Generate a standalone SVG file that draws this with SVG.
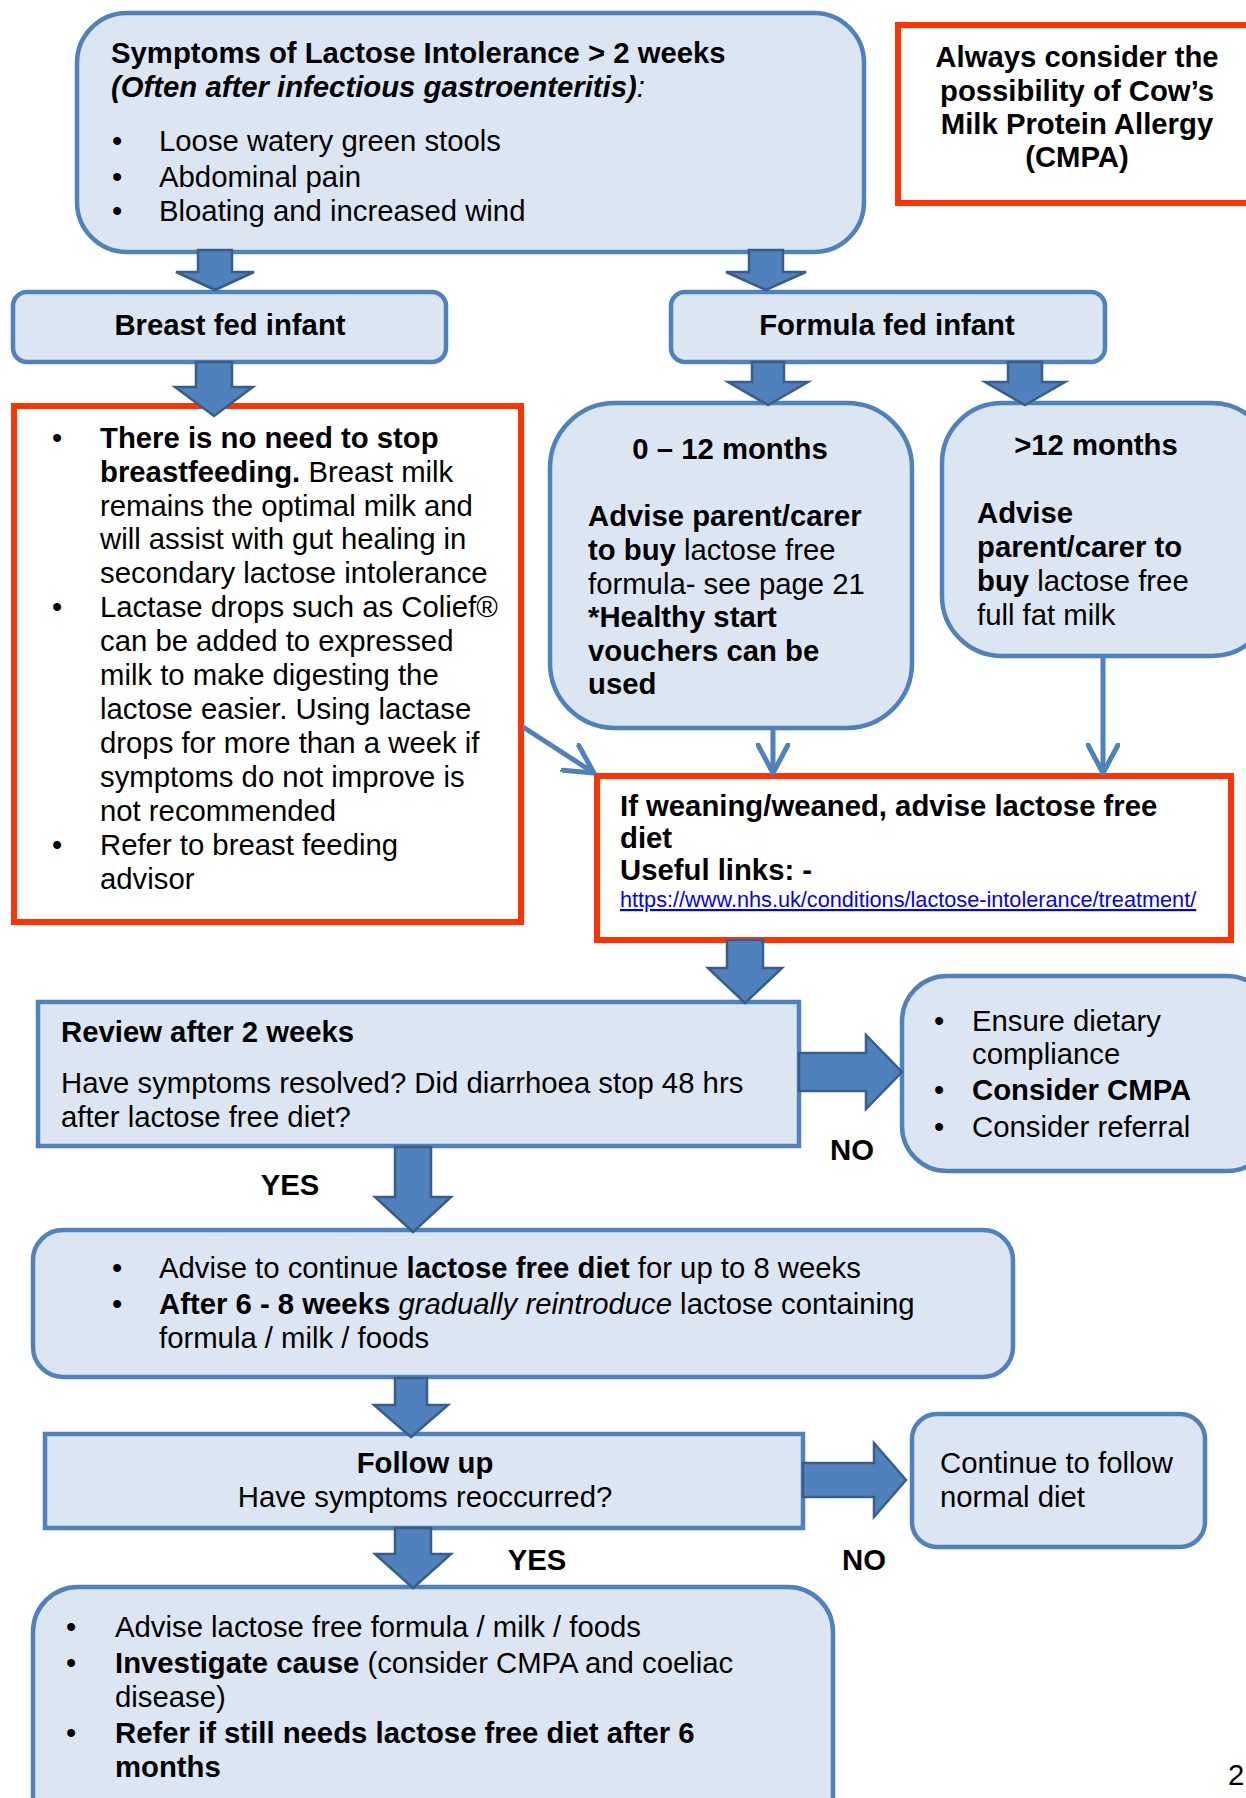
<svg xmlns="http://www.w3.org/2000/svg" width="1246" height="1798" viewBox="0 0 1246 1798">
<style>
text{font-family:"Liberation Sans",Arial,sans-serif;font-size:29.3px;fill:#000}
.b{font-weight:bold}
.i{font-style:italic}
.c{text-anchor:middle}
.box{fill:#DCE6F2;stroke:#4F81BD;stroke-width:4.5}
.red{fill:#fff;stroke:#FF3300;stroke-width:6}
.blk{fill:#4F81BD;stroke:#385D8A;stroke-width:2.5;stroke-linejoin:miter}
.thin{stroke:#4F81BD;stroke-width:5;fill:none}
.url{font-size:21.7px;fill:#0000FF;text-decoration:underline}
</style>
<defs>
<marker id="vh" viewBox="0 0 32 34" refX="30" refY="17" markerWidth="32" markerHeight="34" markerUnits="userSpaceOnUse" orient="auto">
<path d="M2,2 L30,17 L2,32" fill="none" stroke="#4F81BD" stroke-width="5" stroke-linecap="round" stroke-linejoin="round"/>
</marker>
</defs>

<g id="n-symptoms">
<rect class="box" x="77" y="13" width="787" height="239" rx="50"/>
<text class="b" x="111" y="63">Symptoms of Lactose Intolerance &gt; 2 weeks</text>
<text x="111" y="97"><tspan class="b i">(Often after infectious gastroenteritis)</tspan><tspan class="i">:</tspan></text>
<text x="112" y="151">•</text><text x="159" y="151">Loose watery green stools</text>
<text x="112" y="187">•</text><text x="159" y="187">Abdominal pain</text>
<text x="112" y="221">•</text><text x="159" y="221">Bloating and increased wind</text>
</g>

<g id="n-cmpa">
<rect class="red" x="898" y="25" width="362" height="178"/>
<text class="b c" x="1077" y="67">Always consider the</text>
<text class="b c" x="1077" y="101">possibility of Cow’s</text>
<text class="b c" x="1077" y="134">Milk Protein Allergy</text>
<text class="b c" x="1077" y="167">(CMPA)</text>
</g>

<g id="n-breast">
<rect class="box" x="13" y="292" width="433" height="70" rx="14"/>
<text class="b c" x="230" y="335">Breast fed infant</text>
</g>

<g id="n-formula">
<rect class="box" x="671" y="292" width="434" height="70" rx="14"/>
<text class="b c" x="887" y="335">Formula fed infant</text>
</g>

<g id="n-breastinfo">
<rect class="red" x="14" y="406" width="507" height="516"/>
<text x="52" y="448">•</text><text x="100" y="448" class="b">There is no need to stop</text>
<text x="100" y="482"><tspan class="b">breastfeeding.</tspan> Breast milk</text>
<text x="100" y="516">remains the optimal milk and</text>
<text x="100" y="549">will assist with gut healing in</text>
<text x="100" y="583">secondary lactose intolerance</text>
<text x="52" y="617">•</text><text x="100" y="617">Lactase drops such as Colief®</text>
<text x="100" y="651">can be added to expressed</text>
<text x="100" y="685">milk to make digesting the</text>
<text x="100" y="719">lactose easier. Using lactase</text>
<text x="100" y="753">drops for more than a week if</text>
<text x="100" y="787">symptoms do not improve is</text>
<text x="100" y="821">not recommended</text>
<text x="52" y="855">•</text><text x="100" y="855">Refer to breast feeding</text>
<text x="100" y="889">advisor</text>
</g>

<g id="n-0-12">
<rect class="box" x="550" y="403" width="362" height="325" rx="65"/>
<text class="b c" x="730" y="459">0 – 12 months</text>
<text class="b" x="588" y="526">Advise parent/carer</text>
<text x="588" y="560"><tspan class="b">to buy</tspan> lactose free</text>
<text x="588" y="594">formula- see page 21</text>
<text class="b" x="588" y="627">*Healthy start</text>
<text class="b" x="588" y="661">vouchers can be</text>
<text class="b" x="588" y="694">used</text>
</g>

<g id="n-12plus">
<rect class="box" x="942" y="403" width="330" height="253" rx="60"/>
<text class="b c" x="1096" y="455">&gt;12 months</text>
<text class="b" x="977" y="523">Advise</text>
<text class="b" x="977" y="557">parent/carer to</text>
<text x="977" y="591"><tspan class="b">buy</tspan> lactose free</text>
<text x="977" y="625">full fat milk</text>
</g>

<g id="n-weaning">
<rect class="red" x="597" y="776" width="634" height="164"/>
<text class="b" x="620" y="816">If weaning/weaned, advise lactose free</text>
<text class="b" x="620" y="848">diet</text>
<text class="b" x="620" y="880">Useful links: -</text>
<text class="url" x="620" y="907">https://www.nhs.uk/conditions/lactose-intolerance/treatment/</text>
</g>

<g id="n-review">
<rect class="box" x="38" y="1002" width="761" height="144"/>
<text class="b" x="61" y="1042">Review after 2 weeks</text>
<text x="61" y="1093">Have symptoms resolved? Did diarrhoea stop 48 hrs</text>
<text x="61" y="1127">after lactose free diet?</text>
</g>

<g id="n-ensure">
<rect class="box" x="902" y="976" width="370" height="195" rx="45"/>
<text x="934" y="1031">•</text><text x="972" y="1031">Ensure dietary</text>
<text x="972" y="1064">compliance</text>
<text x="934" y="1100">•</text><text class="b" x="972" y="1100">Consider CMPA</text>
<text x="934" y="1137">•</text><text x="972" y="1137">Consider referral</text>
</g>

<g id="n-advise">
<rect class="box" x="33" y="1230" width="980" height="147" rx="30"/>
<text x="112" y="1278">•</text><text x="159" y="1278">Advise to continue <tspan class="b">lactose free diet</tspan> for up to 8 weeks</text>
<text x="112" y="1314">•</text><text x="159" y="1314"><tspan class="b">After 6 - 8 weeks</tspan> <tspan class="i">gradually reintroduce</tspan> lactose containing</text>
<text x="159" y="1348">formula / milk / foods</text>
</g>

<g id="n-followup">
<rect class="box" x="45" y="1434" width="758" height="94"/>
<text class="b c" x="425" y="1473">Follow up</text>
<text class="c" x="425" y="1507">Have symptoms reoccurred?</text>
</g>

<g id="n-continue">
<rect class="box" x="912" y="1414" width="293" height="133" rx="25"/>
<text x="940" y="1473">Continue to follow</text>
<text x="940" y="1507">normal diet</text>
</g>

<g id="n-final">
<rect class="box" x="33" y="1587" width="800" height="260" rx="45"/>
<text x="66" y="1637">•</text><text x="115" y="1637">Advise lactose free formula / milk / foods</text>
<text x="66" y="1673">•</text><text x="115" y="1673"><tspan class="b">Investigate cause</tspan> (consider CMPA and coeliac</text>
<text x="115" y="1707">disease)</text>
<text x="66" y="1743">•</text><text class="b" x="115" y="1743">Refer if still needs lactose free diet after 6</text>
<text class="b" x="115" y="1777">months</text>
</g>

<g id="connectors">
<polygon class="blk" points="198,250 232,250 232,272 254,272 215,290 176,272 198,272"/>
<polygon class="blk" points="749,250 783,250 783,272 806,272 766,290 726,272 749,272"/>
<polygon class="blk" points="196,362 232,362 232,387 253,387 214,416 175,387 196,387"/>
<polygon class="blk" points="752,362 784,362 784,382 808,382 768,405 728,382 752,382"/>
<polygon class="blk" points="1008,362 1042,362 1042,382 1065,382 1025,405 985,382 1008,382"/>
<line class="thin" x1="773" y1="728" x2="773" y2="773" marker-end="url(#vh)"/>
<line class="thin" x1="1103" y1="656" x2="1103" y2="773" marker-end="url(#vh)"/>
<line class="thin" x1="523" y1="727" x2="594" y2="773" marker-end="url(#vh)"/>
<polygon class="blk" points="727,940 763,940 763,968 782,968 745,1003 708,968 727,968"/>
<polygon class="blk" points="799,1053 866,1053 866,1035 902,1072 866,1109 866,1091 799,1091"/>
<polygon class="blk" points="395,1147 431,1147 431,1197 451,1197 413,1232 375,1197 395,1197"/>
<polygon class="blk" points="395,1378 427,1378 427,1405 448,1405 411,1437 374,1405 395,1405"/>
<polygon class="blk" points="803,1463 874,1463 874,1443 906,1480 874,1517 874,1497 803,1497"/>
<polygon class="blk" points="395,1528 431,1528 431,1554 451,1554 413,1588 375,1554 395,1554"/>
<text class="b c" x="290" y="1195">YES</text>
<text class="b c" x="852" y="1160">NO</text>
<text class="b c" x="537" y="1570">YES</text>
<text class="b c" x="864" y="1570">NO</text>
</g>
<text x="1228" y="1785">2</text>
</svg>
